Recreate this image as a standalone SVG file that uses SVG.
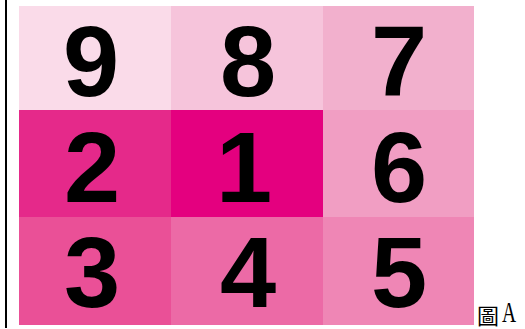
<svg xmlns="http://www.w3.org/2000/svg" width="525" height="329" viewBox="0 0 525 329">
<style>
.n{font-family:"Liberation Sans",Arial,sans-serif;font-weight:bold;font-size:101px;fill:#000;text-anchor:middle}
.cj{font-family:"Noto Sans CJK TC","Noto Sans CJK SC",sans-serif;font-size:22px;fill:#000}
.la{font-family:"Liberation Serif",serif;font-size:26px;fill:#000}
</style>
<rect width="525" height="329" fill="#fff"/>
<rect x="5" y="0" width="2" height="328" fill="#000"/>
<g id="c9"><rect x="19" y="6" width="152" height="104" fill="#fadbe9"/><text class="n" x="91" y="96">9</text></g>
<g id="c8"><rect x="171" y="6" width="152" height="104" fill="#f6c4db"/><text class="n" x="248" y="96">8</text></g>
<g id="c7"><rect x="323" y="6" width="151" height="104" fill="#f2b0cd"/><text class="n" x="399" y="96">7</text></g>
<g id="c2"><rect x="19" y="110" width="152" height="107" fill="#e5298a"/><text class="n" x="92" y="202">2</text></g>
<g id="c1"><rect x="171" y="110" width="152" height="107" fill="#e4007f"/><text class="n" x="244" y="202">1</text></g>
<g id="c6"><rect x="323" y="110" width="151" height="107" fill="#f19ec3"/><text class="n" x="399" y="202">6</text></g>
<g id="c3"><rect x="19" y="217" width="152" height="108" fill="#ea5097"/><text class="n" x="92" y="307">3</text></g>
<g id="c4"><rect x="171" y="217" width="152" height="108" fill="#ec6aa6"/><text class="n" x="248" y="307">4</text></g>
<g id="c5"><rect x="323" y="217" width="151" height="108" fill="#ef86b5"/><text class="n" x="399" y="307">5</text></g>
<g id="caption">
<text class="cj" x="477" y="324">圖</text>
<text class="la" transform="translate(502,322) scale(0.75,1.15)">A</text>
</g>
</svg>
